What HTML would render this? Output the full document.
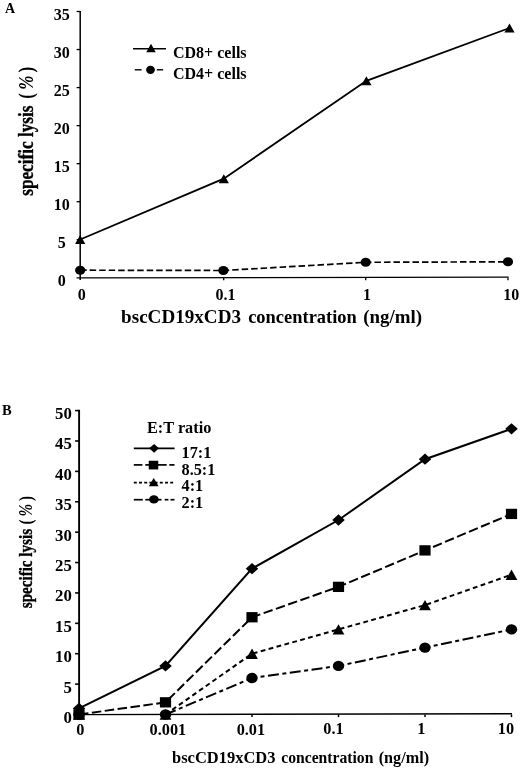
<!DOCTYPE html>
<html><head><meta charset="utf-8"><title>Figure</title>
<style>html,body{margin:0;padding:0;background:#fff;}body{width:520px;height:768px;overflow:hidden;font-family:"Liberation Serif",serif;}svg{display:block;filter:grayscale(1);}</style>
</head><body>
<svg width="520" height="768" viewBox="0 0 520 768">
<rect width="520" height="768" fill="#fff"/>
<g font-family="'Liberation Serif', serif" font-weight="bold" fill="#000">
<path d="M80.2,10.9 V280.0" fill="none" stroke="#000" stroke-width="1.5"/>
<path d="M76.60000000000001,277.90000000000003 L508.7,277.1" fill="none" stroke="#000" stroke-width="1.3"/>
<text x="61.8" y="286.20" font-size="16" text-anchor="middle">0</text>
<path d="M76.60000000000001,239.76 H80.2" stroke="#000" stroke-width="1.3"/>
<text x="61.8" y="248.16" font-size="16" text-anchor="middle">5</text>
<path d="M76.60000000000001,201.71 H80.2" stroke="#000" stroke-width="1.3"/>
<text x="61.8" y="210.11" font-size="16" text-anchor="middle">10</text>
<path d="M76.60000000000001,163.67 H80.2" stroke="#000" stroke-width="1.3"/>
<text x="61.8" y="172.07" font-size="16" text-anchor="middle">15</text>
<path d="M76.60000000000001,125.63 H80.2" stroke="#000" stroke-width="1.3"/>
<text x="61.8" y="134.03" font-size="16" text-anchor="middle">20</text>
<path d="M76.60000000000001,87.59 H80.2" stroke="#000" stroke-width="1.3"/>
<text x="61.8" y="95.99" font-size="16" text-anchor="middle">25</text>
<path d="M76.60000000000001,49.54 H80.2" stroke="#000" stroke-width="1.3"/>
<text x="61.8" y="57.94" font-size="16" text-anchor="middle">30</text>
<path d="M76.60000000000001,11.50 H80.2" stroke="#000" stroke-width="1.3"/>
<text x="61.8" y="19.90" font-size="16" text-anchor="middle">35</text>
<path d="M223.7,277.8 v2.4" stroke="#000" stroke-width="1.3"/>
<path d="M365.7,277.8 v2.4" stroke="#000" stroke-width="1.3"/>
<path d="M508,277.8 v2.4" stroke="#000" stroke-width="1.3"/>
<text x="81.7" y="299.5" font-size="16" text-anchor="middle">0</text>
<text x="225.5" y="299.5" font-size="16" text-anchor="middle">0.1</text>
<text x="367" y="299.5" font-size="16" text-anchor="middle">1</text>
<text x="511.2" y="299.5" font-size="16" text-anchor="middle">10</text>
<text x="5" y="13" font-size="14">A</text>
<text y="323.3" font-size="19"><tspan x="121.1" textLength="119.9" lengthAdjust="spacingAndGlyphs">bscCD19xCD3</tspan><tspan x="248.2" textLength="108.6" lengthAdjust="spacingAndGlyphs">concentration</tspan><tspan x="363.2" textLength="58.8" lengthAdjust="spacingAndGlyphs">(ng/ml)</tspan></text>
<text transform="translate(33.3,195.8) rotate(-90) scale(1,1.235)" stroke="#000" stroke-width="0.3" font-size="17" textLength="90.2" lengthAdjust="spacingAndGlyphs">specific lysis</text><text transform="translate(33.3,98.7) rotate(-90) scale(1,1.235)" font-size="17" letter-spacing="3.2">(<tspan font-style="italic">%</tspan>)</text>
<polyline points="80.20,239.50 223.80,178.70 366.40,80.80 509.50,28.00" fill="none" stroke="#000" stroke-width="1.85"/>
<polyline points="80.20,270.20 223.40,270.50 365.70,262.30 508.00,261.80" fill="none" stroke="#000" stroke-width="1.7" stroke-dasharray="6.5,3"/>
<polygon points="80.20,235.00 75.10,244.00 85.30,244.00"/>
<polygon points="223.80,174.20 218.70,183.20 228.90,183.20"/>
<polygon points="366.40,76.30 361.30,85.30 371.50,85.30"/>
<polygon points="509.50,23.50 504.40,32.50 514.60,32.50"/>
<ellipse cx="80.20" cy="270.20" rx="5.1" ry="4.5"/>
<ellipse cx="223.40" cy="270.50" rx="5.1" ry="4.5"/>
<ellipse cx="365.70" cy="262.30" rx="5.1" ry="4.5"/>
<ellipse cx="508.00" cy="261.80" rx="5.1" ry="4.5"/>
<polyline points="133.00,48.80 166.00,48.80" fill="none" stroke="#000" stroke-width="1.4"/>
<polygon points="151.00,43.65 146.25,52.15 155.75,52.15"/>
<polyline points="134.80,69.80 141.60,69.80" fill="none" stroke="#000" stroke-width="1.4"/>
<polyline points="156.80,69.80 163.20,69.80" fill="none" stroke="#000" stroke-width="1.4"/>
<ellipse cx="150.50" cy="69.80" rx="4.4" ry="4.1"/>
<text x="173" y="58.3" font-size="16">CD8+ cells</text>
<text x="173" y="79" font-size="16">CD4+ cells</text>
<path d="M79.1,409.8 V717.0" fill="none" stroke="#000" stroke-width="1.9"/>
<path d="M75.1,714.6 L512,713.8" fill="none" stroke="#000" stroke-width="1.4"/>
<text x="71.9" y="722.90" font-size="16.8" text-anchor="end">0</text>
<path d="M75.1,684.11 H79.1" stroke="#000" stroke-width="1.6"/>
<text x="71.9" y="692.51" font-size="16.8" text-anchor="end">5</text>
<path d="M75.1,653.72 H79.1" stroke="#000" stroke-width="1.6"/>
<text x="71.9" y="662.12" font-size="16.8" text-anchor="end">10</text>
<path d="M75.1,623.33 H79.1" stroke="#000" stroke-width="1.6"/>
<text x="71.9" y="631.73" font-size="16.8" text-anchor="end">15</text>
<path d="M75.1,592.94 H79.1" stroke="#000" stroke-width="1.6"/>
<text x="71.9" y="601.34" font-size="16.8" text-anchor="end">20</text>
<path d="M75.1,562.55 H79.1" stroke="#000" stroke-width="1.6"/>
<text x="71.9" y="570.95" font-size="16.8" text-anchor="end">25</text>
<path d="M75.1,532.16 H79.1" stroke="#000" stroke-width="1.6"/>
<text x="71.9" y="540.56" font-size="16.8" text-anchor="end">30</text>
<path d="M75.1,501.77 H79.1" stroke="#000" stroke-width="1.6"/>
<text x="71.9" y="510.17" font-size="16.8" text-anchor="end">35</text>
<path d="M75.1,471.38 H79.1" stroke="#000" stroke-width="1.6"/>
<text x="71.9" y="479.78" font-size="16.8" text-anchor="end">40</text>
<path d="M75.1,440.99 H79.1" stroke="#000" stroke-width="1.6"/>
<text x="71.9" y="449.39" font-size="16.8" text-anchor="end">45</text>
<path d="M75.1,410.60 H79.1" stroke="#000" stroke-width="1.6"/>
<text x="71.9" y="419.00" font-size="16.8" text-anchor="end">50</text>
<path d="M165.5,714.5 v2.6" stroke="#000" stroke-width="1.5"/>
<path d="M252.0,714.5 v2.6" stroke="#000" stroke-width="1.5"/>
<path d="M338.5,714.5 v2.6" stroke="#000" stroke-width="1.5"/>
<path d="M425.0,714.5 v2.6" stroke="#000" stroke-width="1.5"/>
<path d="M511.5,714.5 v2.6" stroke="#000" stroke-width="1.5"/>
<text x="80.4" y="735.2" font-size="16.3" text-anchor="middle">0</text>
<text x="167.9" y="735" font-size="16.3" text-anchor="middle">0.001</text>
<text x="250.9" y="734.6" font-size="16.3" text-anchor="middle">0.01</text>
<text x="333.5" y="734" font-size="16.3" text-anchor="middle">0.1</text>
<text x="421.4" y="733.8" font-size="16.3" text-anchor="middle">1</text>
<text x="505.9" y="733.8" font-size="16.3" text-anchor="middle">10</text>
<text x="2" y="415.2" font-size="14.5">B</text>
<text y="763" font-size="16.3"><tspan x="172" textLength="103.5" lengthAdjust="spacingAndGlyphs">bscCD19xCD3</tspan><tspan x="281.2" textLength="92.2" lengthAdjust="spacingAndGlyphs">concentration</tspan><tspan x="378.7" textLength="50.4" lengthAdjust="spacingAndGlyphs">(ng/ml)</tspan></text>
<text transform="translate(31.5,608.2) rotate(-90) scale(1,1.19)" stroke="#000" stroke-width="0.3" font-size="15.1" textLength="79.2" lengthAdjust="spacingAndGlyphs">specific lysis</text><text transform="translate(31.5,524.4) rotate(-90) scale(1,1.19)" font-size="15.1" letter-spacing="2.9">(<tspan font-style="italic">%</tspan>)</text>
<polyline points="79.00,708.42 165.50,665.88 252.00,568.63 338.50,520.00 425.00,459.22 511.50,428.83" fill="none" stroke="#000" stroke-width="2.0"/>
<polyline points="79.00,714.50 165.50,702.34 252.00,617.25 338.50,586.86 425.00,550.39 511.50,513.93" fill="none" stroke="#000" stroke-width="2.0" stroke-dasharray="9.5,3.5"/>
<polyline points="165.50,714.50 252.00,653.72 338.50,629.41 425.00,605.10 511.50,574.71" fill="none" stroke="#000" stroke-width="2.0" stroke-dasharray="4.8,3.4"/>
<polyline points="165.50,714.50 252.00,678.03 338.50,665.88 425.00,647.64 511.50,629.41" fill="none" stroke="#000" stroke-width="2.0" stroke-dasharray="11,3.5,4,3.5"/>
<ellipse cx="79.00" cy="714.50" rx="5.7" ry="5.2"/>
<ellipse cx="165.50" cy="714.50" rx="5.7" ry="5.2"/>
<ellipse cx="252.00" cy="678.03" rx="5.7" ry="5.2"/>
<ellipse cx="338.50" cy="665.88" rx="5.7" ry="5.2"/>
<ellipse cx="425.00" cy="647.64" rx="5.7" ry="5.2"/>
<ellipse cx="511.50" cy="629.41" rx="5.7" ry="5.2"/>
<polygon points="79.00,709.30 73.10,719.70 84.90,719.70"/>
<polygon points="165.50,709.30 159.60,719.70 171.40,719.70"/>
<polygon points="252.00,648.52 246.10,658.92 257.90,658.92"/>
<polygon points="338.50,624.21 332.60,634.61 344.40,634.61"/>
<polygon points="425.00,599.90 419.10,610.30 430.90,610.30"/>
<polygon points="511.50,569.51 505.60,579.91 517.40,579.91"/>
<rect x="73.40" y="709.35" width="11.2" height="10.3"/>
<rect x="159.90" y="697.19" width="11.2" height="10.3"/>
<rect x="246.40" y="612.10" width="11.2" height="10.3"/>
<rect x="332.90" y="581.71" width="11.2" height="10.3"/>
<rect x="419.40" y="545.24" width="11.2" height="10.3"/>
<rect x="505.90" y="508.78" width="11.2" height="10.3"/>
<polygon points="79.00,702.77 85.25,708.42 79.00,714.07 72.75,708.42"/>
<polygon points="165.50,660.23 171.75,665.88 165.50,671.53 159.25,665.88"/>
<polygon points="252.00,562.98 258.25,568.63 252.00,574.28 245.75,568.63"/>
<polygon points="338.50,514.35 344.75,520.00 338.50,525.65 332.25,520.00"/>
<polygon points="425.00,453.57 431.25,459.22 425.00,464.87 418.75,459.22"/>
<polygon points="511.50,423.18 517.75,428.83 511.50,434.48 505.25,428.83"/>
<text x="147" y="433.3" font-size="16" textLength="64.3" lengthAdjust="spacingAndGlyphs">E:T ratio</text>
<polyline points="133.80,448.30 174.60,448.30" fill="none" stroke="#000" stroke-width="1.7"/>
<polygon points="154.10,443.95 159.00,448.30 154.10,452.65 149.20,448.30"/>
<polyline points="133.80,464.90 142.40,464.90" fill="none" stroke="#000" stroke-width="1.7"/><polyline points="145.30,464.90 166.70,464.90" fill="none" stroke="#000" stroke-width="1.7"/><polyline points="169.30,464.90 174.50,464.90" fill="none" stroke="#000" stroke-width="1.7"/>
<rect x="148.75" y="460.75" width="9.5" height="8.7"/>
<polyline points="133.80,482.60 174.40,482.60" fill="none" stroke="#000" stroke-width="1.7" stroke-dasharray="3,2.2"/>
<polygon points="153.70,478.10 148.80,486.30 158.60,486.30"/>
<polyline points="133.80,499.70 142.80,499.70" fill="none" stroke="#000" stroke-width="1.7"/><polyline points="145.30,499.70 161.50,499.70" fill="none" stroke="#000" stroke-width="1.7"/><polyline points="164.70,499.70 168.40,499.70" fill="none" stroke="#000" stroke-width="1.7"/><polyline points="170.50,499.70 174.50,499.70" fill="none" stroke="#000" stroke-width="1.7"/>
<ellipse cx="153.90" cy="499.40" rx="4.8" ry="4.2"/>
<text x="181.5" y="457.5" font-size="16.3">17:1</text>
<text x="181.5" y="474.5" font-size="16.3">8.5:1</text>
<text x="181.5" y="491.4" font-size="16.3">4:1</text>
<text x="181.5" y="507.8" font-size="16.3">2:1</text>
</g></svg>
</body></html>
